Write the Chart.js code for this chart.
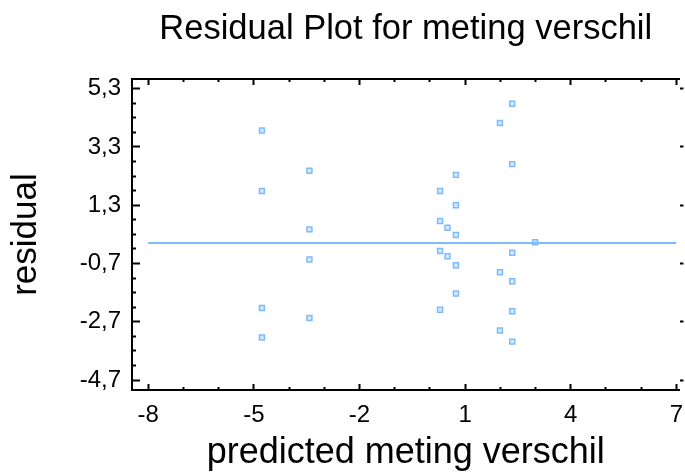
<!DOCTYPE html>
<html>
<head>
<meta charset="utf-8">
<script src="https://cdn.jsdelivr.net/npm/chart.js@4/dist/chart.umd.min.js"></script>
<style>
  html, body { margin: 0; padding: 0; background: #fff; overflow: hidden; }
  canvas { display: block; }
</style>
</head>
<body>
<canvas id="residualChart" width="685" height="475"></canvas>
<script>
// Residual plot - Chart.js scatter with zero line

// predicted values (x) and their residuals (y)
const predicted = [-4.77, -4.77, -4.77, -4.77,
                   -3.42, -3.42, -3.42, -3.42,
                   0.29, 0.29, 0.29, 0.29,
                   0.50, 0.50,
                   0.74, 0.74, 0.74, 0.74, 0.74,
                   1.99, 1.99, 1.99,
                   2.34, 2.34, 2.34, 2.34, 2.34, 2.34,
                   2.99];
const residuals = [3.86, 1.79, -2.23, -3.24,
                   2.48, 0.47, -0.56, -2.57,
                   1.79, 0.76, -0.27, -2.29,
                   0.53, -0.45,
                   2.34, 1.30, 0.28, -0.76, -1.73,
                   4.12, -1.00, -3.00,
                   4.78, 2.71, -0.33, -1.31, -2.34, -3.38,
                   0.03];

// zero reference line
const zeroLineX = [-8, 7];
const zeroLineY = [0, 0];

// axis ticks
const xTicks = [-8, -7, -6, -5, -4, -3, -2, -1, 0, 1, 2, 3, 4, 5, 6, 7];
const xLabelTicks = [-8, -5, -2, 1, 4, 7];
const yTicks = [5.3, 4.8, 4.3, 3.8, 3.3, 2.8, 2.3, 1.8, 1.3, 0.8, 0.3, -0.2, -0.7,
                -1.2, -1.7, -2.2, -2.7, -3.2, -3.7, -4.2, -4.7];
const yLabelTicks = [5.3, 3.3, 1.3, -0.7, -2.7, -4.7];

const X_MIN = -8.46, X_MAX = 7.09;
const Y_MIN = -5.04, Y_MAX = 5.63;

const FONT = '"Liberation Sans", Arial, Helvetica, sans-serif';
const BLUE = '#7dbcfc';

function isLabelTick(v, list) {
    return list.some(m => Math.abs(m - v) < 1e-6);
}
function fmt(v) {
    return String(v).replace('.', ',');
}
// keep label overhang from shrinking the plot area
function noPad(s) {
    s.paddingLeft = 0;
    s.paddingRight = 0;
    s.paddingTop = 0;
    s.paddingBottom = 0;
}

Chart.defaults.font.family = FONT;
Chart.defaults.color = '#000';

const ctx = document.getElementById('residualChart').getContext('2d');
new Chart(ctx, {
    type: 'scatter',
    data: {
        datasets: [
            {
                type: 'line',
                data: zeroLineX.map((x, i) => ({ x: x, y: zeroLineY[i] })),
                borderColor: BLUE,
                borderWidth: 2,
                pointRadius: 0,
                fill: false
            },
            {
                data: predicted.map((x, i) => ({ x: x, y: residuals[i] })),
                pointStyle: 'rect',
                pointRadius: 3.5,
                borderWidth: 1.5,
                borderColor: BLUE,
                backgroundColor: '#d6e9ff'
            }
        ]
    },
    options: {
        responsive: false,
        animation: false,
        devicePixelRatio: 1,
        layout: { padding: 0 },
        plugins: {
            legend: { display: false },
            tooltip: { enabled: false },
            title: {
                display: true,
                text: 'Residual Plot for meting verschil',
                fullSize: false,
                color: '#000',
                font: { family: FONT, size: 34.5, weight: 'normal' },
                padding: { top: 9.2, bottom: 28.4 }
            }
        },
        scales: {
            x: {
                type: 'linear',
                position: 'bottom',
                min: X_MIN,
                max: X_MAX,
                afterBuildTicks: s => { s.ticks = xTicks.map(v => ({ value: v })); },
                afterFit: s => { s.height = 85; noPad(s); },
                border: { display: true, color: '#000', width: 2 },
                grid: {
                    drawOnChartArea: false,
                    drawTicks: true,
                    tickLength: -6,
                    tickWidth: 2,
                    tickColor: '#000',
                    tickBorderDash: c => isLabelTick(c.tick.value, xLabelTicks) ? [] : [4, 100]
                },
                ticks: {
                    autoSkip: false,
                    maxRotation: 0,
                    padding: 16.6,
                    color: '#000',
                    font: { family: FONT, size: 24 },
                    callback: v => isLabelTick(v, xLabelTicks) ? fmt(v) : ''
                },
                title: {
                    display: true,
                    text: 'predicted meting verschil',
                    color: '#000',
                    font: { family: FONT, size: 36, weight: 'normal' },
                    padding: { top: 0, bottom: 0 }
                }
            },
            xTop: {
                type: 'linear',
                position: 'top',
                min: X_MIN,
                max: X_MAX,
                afterBuildTicks: s => { s.ticks = xTicks.map(v => ({ value: v })); },
                afterFit: s => { s.height = 0; noPad(s); },
                border: { display: true, color: '#000', width: 2 },
                grid: {
                    drawOnChartArea: false,
                    drawTicks: true,
                    tickLength: -6,
                    tickWidth: 2,
                    tickColor: '#000',
                    tickBorderDash: c => isLabelTick(c.tick.value, xLabelTicks) ? [] : [0, 3, 10, 100]
                },
                ticks: { display: false }
            },
            y: {
                type: 'linear',
                position: 'left',
                min: Y_MIN,
                max: Y_MAX,
                afterBuildTicks: s => { s.ticks = yTicks.map(v => ({ value: v })); },
                afterFit: s => { s.width = 132; noPad(s); },
                border: { display: true, color: '#000', width: 2 },
                grid: {
                    drawOnChartArea: false,
                    drawTicks: true,
                    tickLength: -8,
                    tickWidth: 2,
                    tickColor: '#000',
                    tickBorderDash: c => isLabelTick(c.tick.value, yLabelTicks) ? [] : [0, 4, 10, 100]
                },
                ticks: {
                    autoSkip: false,
                    padding: 19,
                    color: '#000',
                    font: { family: FONT, size: 24 },
                    callback: v => isLabelTick(v, yLabelTicks) ? fmt(v) : ''
                },
                title: {
                    display: true,
                    text: 'residual',
                    color: '#000',
                    font: { family: FONT, size: 35, weight: 'normal' },
                    padding: { top: 5, bottom: 0 }
                }
            },
            yRight: {
                type: 'linear',
                position: 'right',
                min: Y_MIN,
                max: Y_MAX,
                afterBuildTicks: s => { s.ticks = yLabelTicks.map(v => ({ value: v })); },
                afterFit: s => { s.width = 4; noPad(s); },
                border: { display: false },
                grid: {
                    drawOnChartArea: false,
                    drawTicks: true,
                    tickLength: 4,
                    tickWidth: 2,
                    tickColor: '#000'
                },
                ticks: { display: false }
            }
        }
    }
});
</script>
</body>
</html>
